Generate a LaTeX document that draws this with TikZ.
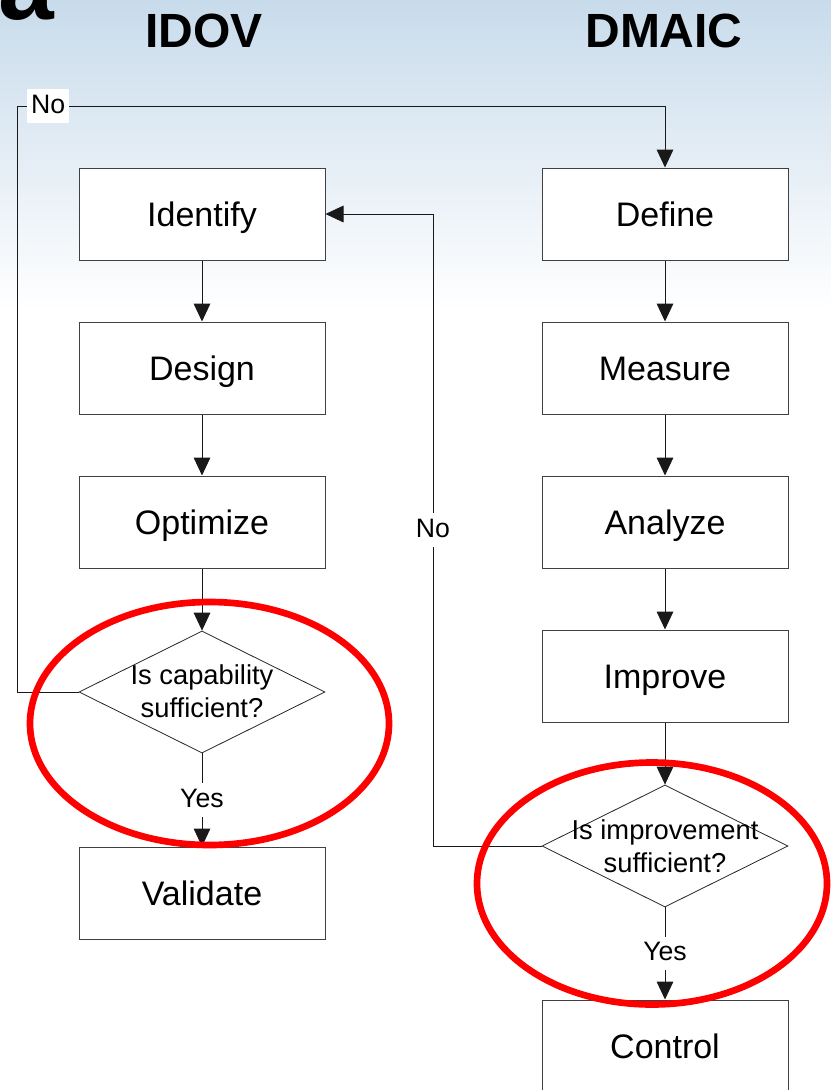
\documentclass[tikz,border=0pt]{standalone}
\usepackage{fontspec}
\setmainfont{Liberation Sans}
\usetikzlibrary{shapes.geometric,arrows.meta}
\definecolor{skytop}{RGB}{200,219,235}
\definecolor{ringred}{RGB}{255,0,0}
\tikzset{
  stepbox/.style={draw=black!75, line width=0.75pt, fill=white,
    minimum width=184.5pt, minimum height=69pt, inner sep=0pt,
    text height=18.3pt, text depth=0pt,
    font=\fontsize{25.5}{30}\selectfont},
  decbox/.style={diamond, draw=black!85, line width=0.6pt, fill=white,
    minimum width=184.5pt, minimum height=91.5pt, inner sep=0pt},
  dectext/.style={font=\fontsize{20.5}{24.75}\selectfont, align=center, inner sep=0pt},
  flow/.style={draw=black!90, line width=0.75pt, -{Triangle[length=13.5pt,width=12.5pt]}},
  lbl/.style={fill=white, font=\fontsize{20}{24}\selectfont, inner xsep=3pt,
    inner ysep=3pt, text height=15pt, text depth=4pt},
  ring/.style={draw=ringred, line width=5pt},
  headline/.style={font=\fontsize{36}{40}\selectfont\bfseries},
}
\begin{document}
\begin{tikzpicture}[x=0.75pt,y=-0.75pt]
  \useasboundingbox (0,0) rectangle (831,1090);
  \clip (0,0) rectangle (831,1090);

  % background: pale blue fading into white
  \fill[white] (0,0) rectangle (831,1090);
  \shade[top color=skytop, bottom color=white] (0,0) rectangle (831,310);

  % panel tag and column headings
  \node[anchor=base west, inner sep=0pt, font=\fontsize{75}{75}\selectfont\bfseries] (tag) at (-2,19) {a};
  \node[headline] (idov) at (204,31) {IDOV};
  \node[headline] (dmaic) at (664,31) {DMAIC};

  % IDOV column
  \node[stepbox] (ide) at (202,214) {Identify};
  \node[stepbox] (des) at (202,368) {Design};
  \node[stepbox] (opt) at (202,522) {Optimize};
  \node[decbox]  (d1)  at (202,692) {};
  \node[dectext] (d1t) at (202,691) {Is capability\\sufficient?};
  \node[stepbox] (val) at (202,893) {Validate};

  % DMAIC column
  \node[stepbox] (def) at (665,214) {Define};
  \node[stepbox] (mea) at (665,368) {Measure};
  \node[stepbox] (ana) at (665,522) {Analyze};
  \node[stepbox] (imp) at (665,676) {Improve};
  \node[decbox]  (d2)  at (665,846) {};
  \node[dectext] (d2t) at (665,846) {Is improvement\\sufficient?};
  \node[stepbox] (con) at (665,1046) {Control};

  % loop corners
  \coordinate (nl) at (17,106);
  \coordinate (nr) at (665,106);
  \coordinate (nx) at (433,0);

  % connectors
  \draw[flow] (ide) -- (des);
  \draw[flow] (des) -- (opt);
  \draw[flow] (opt) -- (d1);
  \draw[flow] (d1) -- node[lbl] {Yes} (val);

  \draw[flow] (def) -- (mea);
  \draw[flow] (mea) -- (ana);
  \draw[flow] (ana) -- (imp);
  \draw[flow] (imp) -- (d2);
  \draw[flow] (d2) -- node[lbl] {Yes} (con);

  \draw[flow] (d1.west) -- (d1.west -| nl) -- (nl)
    -- node[lbl, pos=0.048] {No} (nr) -- (def.north);
  \draw[flow] (d2.west) -- (d2.west -| nx)
    -- node[lbl] {No} (nx |- ide) -- (ide.east);

  % highlight rings around the decisions
  \draw[ring] (209.5,723.5) ellipse [x radius=179.5, y radius=121.5];
  \draw[ring] (652,883.5) ellipse [x radius=175, y radius=121];
\end{tikzpicture}
\end{document}
